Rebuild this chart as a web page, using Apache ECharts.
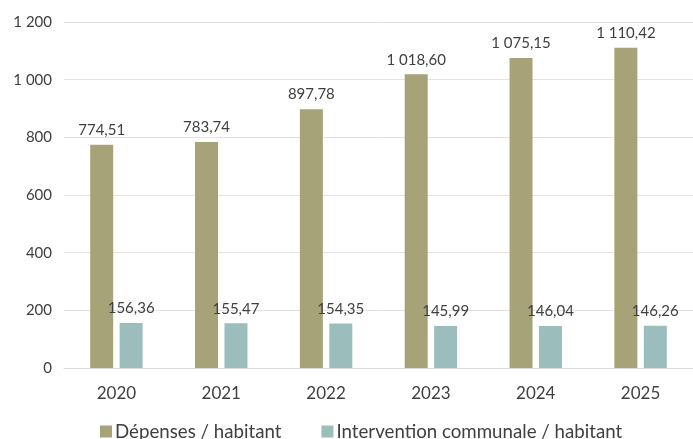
<!DOCTYPE html>
<html>
<head>
<meta charset="utf-8">
<script src="https://cdn.jsdelivr.net/npm/echarts@6/dist/echarts.min.js"></script>
<style>
  html, body { margin: 0; padding: 0; background: #ffffff; }
  #chart { width: 693px; height: 439px; }
</style>
</head>
<body>
<div id="chart"></div>
<script>
// Années
const years = ['2020', '2021', '2022', '2023', '2024', '2025'];
// Dépenses par habitant (€)
const depenses = [774.51, 783.74, 897.78, 1018.60, 1075.15, 1110.42];
// Intervention communale par habitant (€)
const intervention = [156.36, 155.47, 154.35, 145.99, 146.04, 146.26];
// Graduations de l'axe vertical
const yTicks = [0, 200, 400, 600, 800, 1000, 1200];

const FONT = 'Lato, "Open Sans", sans-serif';
const TEXT = '#404040';

// Format français : espace pour les milliers, virgule décimale
function fr(v, dec) {
  const s = v.toFixed(dec);
  const parts = s.split('.');
  const intPart = parts[0].replace(/\B(?=(\d{3})+(?!\d))/g, ' ');
  return parts.length > 1 ? intPart + ',' + parts[1] : intPart;
}

const chart = echarts.init(document.getElementById('chart'), null, { renderer: 'canvas' });
chart.setOption({
  animation: false,
  backgroundColor: '#ffffff',
  textStyle: { fontFamily: FONT },
  grid: { left: 64, right: 0, top: 22, bottom: 71, containLabel: false },
  legend: {
    left: 100,
    top: 422,
    padding: 0,
    itemWidth: 12,
    itemHeight: 12,
    itemGap: 40,
    icon: 'rect',
    textStyle: { fontFamily: FONT, fontSize: 18.7, color: TEXT, padding: [0, 0, 0, -2] },
    data: ['Dépenses / habitant', 'Intervention communale / habitant']
  },
  xAxis: {
    type: 'category',
    data: years,
    axisLine: { show: true, lineStyle: { color: '#d9d9d9' } },
    axisTick: { show: false },
    axisLabel: { fontFamily: FONT, fontSize: 17, color: TEXT, margin: 17 }
  },
  yAxis: {
    type: 'value',
    min: yTicks[0],
    max: yTicks[yTicks.length - 1],
    interval: yTicks[1] - yTicks[0],
    axisLine: { show: false },
    axisTick: { show: false },
    splitLine: { lineStyle: { color: '#e3e3e3' } },
    axisLabel: {
      fontFamily: FONT, fontSize: 15, color: TEXT, margin: 12,
      formatter: v => fr(v, 0)
    }
  },
  series: [
    {
      name: 'Dépenses / habitant',
      type: 'bar',
      data: depenses,
      barWidth: 23,
      barGap: '28%',
      itemStyle: { color: '#a6a379' },
      label: {
        show: true, position: 'top', distance: 7,
        fontFamily: FONT, fontSize: 15, color: TEXT,
        formatter: p => fr(p.value, 2)
      }
    },
    {
      name: 'Intervention communale / habitant',
      type: 'bar',
      data: intervention,
      barWidth: 23,
      barGap: '28%',
      itemStyle: { color: '#9bbdbc' },
      label: {
        show: true, position: 'top', distance: 7,
        fontFamily: FONT, fontSize: 15, color: TEXT,
        formatter: p => fr(p.value, 2)
      }
    }
  ]
});
</script>
</body>
</html>
